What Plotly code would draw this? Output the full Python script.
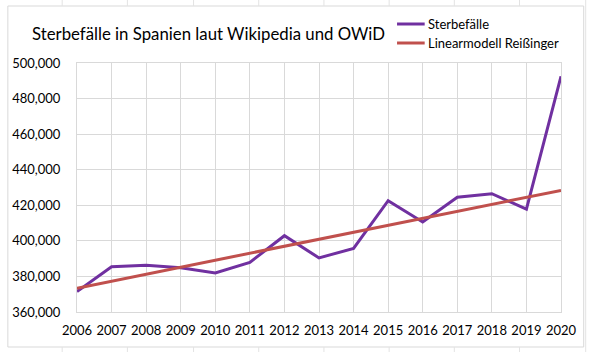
import plotly.graph_objects as go

years = list(range(2006, 2021))
sterbefaelle = [371500, 385400, 386300, 384900, 382000, 387900, 402900, 390400,
                395800, 422600, 410600, 424500, 426500, 417800, 492500]
linearmodell = [373400, 377300, 381300, 385200, 389100, 393000, 397000, 400900,
                404800, 408800, 412700, 416600, 420500, 424500, 428400]
y_ticks = [360000, 380000, 400000, 420000, 440000, 460000, 480000, 500000]
series_names = ["Sterbefälle", "Linearmodell Reißinger"]
series_colors = ["#7030A0", "#C0504D"]

W, H = 589, 352
L, R, T, B = 72, 27, 63, 40
PW, PH = W - L - R, H - T - B


def px_x(x):
    return (x - L) / PW


def px_y(y):
    return (H - B - y) / PH


FONT = "Lato"
fig = go.Figure()
for vals, name, col in zip([sterbefaelle, linearmodell], series_names, series_colors):
    fig.add_trace(go.Scatter(x=years, y=vals, mode="lines", name=name,
                             line=dict(color=col, width=3)))

shapes = []
# chart border
shapes.append(dict(type="rect", xref="paper", yref="paper",
                   x0=px_x(2), x1=px_x(585), y0=px_y(347), y1=px_y(6),
                   line=dict(color="#d9d9d9", width=1), layer="below"))
# spreadsheet cell lines outside the chart
for cx in [57, 123, 190, 256, 322, 388, 454, 520]:
    shapes.append(dict(type="line", xref="paper", yref="paper",
                       x0=px_x(cx), x1=px_x(cx), y0=px_y(0), y1=px_y(6),
                       line=dict(color="#e3e3e3", width=1), layer="below"))
    shapes.append(dict(type="line", xref="paper", yref="paper",
                       x0=px_x(cx), x1=px_x(cx), y0=px_y(347), y1=px_y(352),
                       line=dict(color="#e3e3e3", width=1), layer="below"))
shapes.append(dict(type="line", xref="paper", yref="paper",
                   x0=px_x(587), x1=px_x(587), y0=px_y(0), y1=px_y(352),
                   line=dict(color="#e3e3e3", width=1), layer="below"))

annotations = [dict(text="Sterbefälle in Spanien laut Wikipedia und OWiD",
                    xref="paper", yref="paper", x=px_x(24), y=px_y(33),
                    xanchor="left", yanchor="middle", showarrow=False,
                    font=dict(family=FONT, size=16.8, color="#000000"))]
# legend (drawn manually for Excel-like compact layout)
for i, (name, col) in enumerate(zip(series_names, series_colors)):
    yc = 24 + i * 19
    shapes.append(dict(type="line", xref="paper", yref="paper",
                       x0=px_x(396), x1=px_x(424), y0=px_y(yc), y1=px_y(yc),
                       line=dict(color=col, width=3)))
    annotations.append(dict(text=name, xref="paper", yref="paper",
                            x=px_x(425), y=px_y(yc), xanchor="left", yanchor="middle",
                            showarrow=False,
                            font=dict(family=FONT, size=13, color="#000000")))

fig.update_layout(
    width=W, height=H,
    margin=dict(l=L, r=R, t=T, b=B),
    paper_bgcolor="white", plot_bgcolor="white",
    font=dict(family=FONT, size=13, color="#000000"),
    showlegend=False,
    shapes=shapes,
    annotations=annotations,
)
fig.update_xaxes(range=[2006, 2020], tickmode="array", tickvals=years,
                 ticktext=[str(y) for y in years],
                 showgrid=True, gridcolor="#d9d9d9", gridwidth=1,
                 showline=True, linecolor="#d9d9d9", linewidth=1, mirror=True,
                 zeroline=False, ticks="", ticklabelstandoff=6,
                 tickfont=dict(family=FONT, size=13))
fig.update_yaxes(range=[360000, 500000], tickmode="array", tickvals=y_ticks,
                 ticktext=[f"{v:,}" for v in y_ticks],
                 showgrid=True, gridcolor="#d9d9d9", gridwidth=1,
                 showline=True, linecolor="#d9d9d9", linewidth=1, mirror=True,
                 zeroline=False, ticks="", ticklabelstandoff=13,
                 tickfont=dict(family=FONT, size=13))

fig.write_html("out.html")
